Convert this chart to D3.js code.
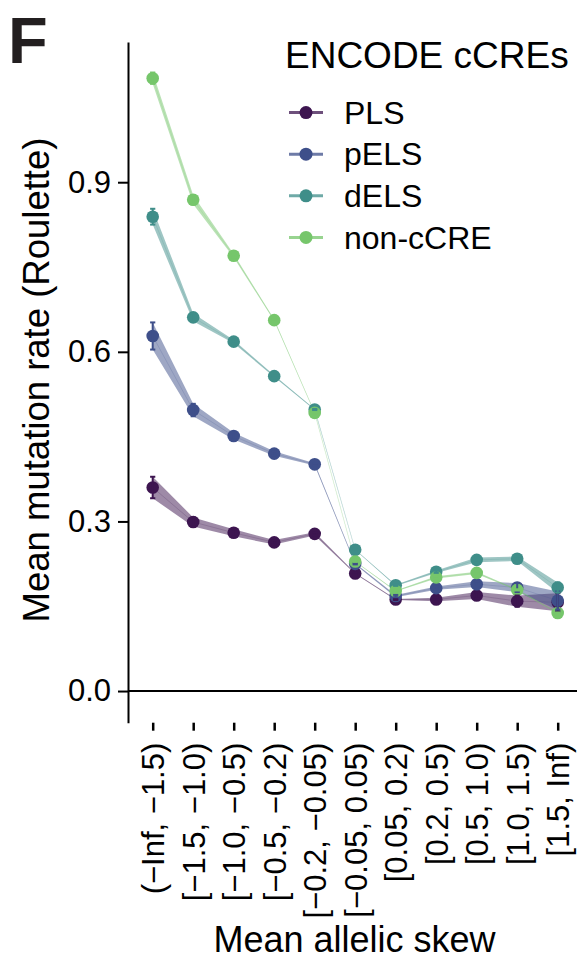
<!DOCTYPE html>
<html>
<head>
<meta charset="utf-8">
<script src="https://cdn.jsdelivr.net/npm/d3@7"></script>
<style>
  body { margin: 0; background: #fff; }
  svg { display: block; font-family: "Liberation Sans", Arial, Helvetica, sans-serif; }
</style>
</head>
<body>
<script>
// bins of mean allelic skew
const categories = [
  "(\u2212Inf, \u22121.5)", "[\u22121.5, \u22121.0)", "[\u22121.0, \u22120.5)",
  "[\u22120.5, \u22120.2)", "[\u22120.2, \u22120.05)", "[\u22120.05, 0.05)",
  "[0.05, 0.2)", "[0.2, 0.5)", "[0.5, 1.0)", "[1.0, 1.5)", "[1.5, Inf)"
];

const seriesNames  = ["PLS", "pELS", "dELS", "non-cCRE"];
const seriesColors = ["#3d1550", "#3e4f8a", "#3f8e89", "#76c66b"];

// mean mutation rate per bin
const plsMean    = [0.360, 0.299, 0.280, 0.263, 0.278, 0.208, 0.162, 0.162, 0.169, 0.159, 0.157];
const pelsMean   = [0.628, 0.497, 0.451, 0.420, 0.401, 0.225, 0.168, 0.182, 0.189, 0.183, 0.160];
const delsMean   = [0.839, 0.661, 0.618, 0.557, 0.498, 0.250, 0.187, 0.211, 0.232, 0.234, 0.183];
const noncreMean = [1.084, 0.869, 0.770, 0.656, 0.492, 0.229, 0.177, 0.201, 0.209, 0.179, 0.138];

// half-width of the confidence band / error bar
const plsCI    = [0.019, 0.008, 0.006, 0.004, 0.003, 0.001, 0.001, 0.003, 0.006, 0.010, 0.016];
const pelsCI   = [0.024, 0.011, 0.006, 0.004, 0.002, 0.001, 0.002, 0.003, 0.005, 0.008, 0.016];
const delsCI   = [0.014, 0.007, 0.003, 0.0015, 0.001, 0.0005, 0.001, 0.002, 0.004, 0.004, 0.009];
const noncreCI = [0.010, 0.008, 0.003, 0.0015, 0.0007, 0.0005, 0.001, 0.002, 0.002, 0.001, 0.001];

const yTicks = [0, 0.3, 0.6, 0.9];

const means = [plsMean, pelsMean, delsMean, noncreMean];
const cis   = [plsCI, pelsCI, delsCI, noncreCI];

const W = 577, H = 960;
const svg = d3.select("body").append("svg")
  .attr("width", W)
  .attr("height", H);

const x = d3.scalePoint().domain(categories).range([152.7, 557.7]);
const y = d3.scaleLinear().domain([-0.056, 1.148]).range([722.7, 42]);

const series = seriesNames.map((name, i) => ({
  name,
  color: seriesColors[i],
  values: categories.map((c, j) => ({ c, m: means[i][j], e: cis[i][j] }))
}));

// zero line
svg.append("line")
  .attr("x1", 128).attr("x2", W)
  .attr("y1", y(0)).attr("y2", y(0))
  .attr("stroke", "#000")
  .attr("stroke-width", 2);

// y axis
const yAxis = svg.append("g")
  .attr("transform", "translate(128,0)")
  .call(d3.axisLeft(y).tickValues(yTicks).tickFormat(d3.format(".1f"))
    .tickSize(10).tickSizeOuter(0).tickPadding(7));
yAxis.select(".domain").attr("stroke-width", 2);
yAxis.selectAll(".tick line").attr("stroke-width", 2);
yAxis.selectAll(".tick text")
  .attr("font-size", "31px")
  .attr("fill", "#000");

// x axis (ticks only, no spine)
const xAxis = svg.append("g")
  .attr("transform", "translate(0,722.7)")
  .call(d3.axisBottom(x).tickSize(8).tickSizeOuter(0));
xAxis.select(".domain").remove();
xAxis.selectAll(".tick line").attr("stroke-width", 2.5);
xAxis.selectAll(".tick text")
  .attr("font-size", "31px")
  .attr("fill", "#000")
  .attr("text-anchor", "end")
  .attr("transform", "rotate(-90)")
  .attr("x", -20)
  .attr("y", 0)
  .attr("dy", "0.35em");

// axis labels
svg.append("text")
  .attr("transform", "translate(49,380) rotate(-90)")
  .attr("text-anchor", "middle")
  .attr("font-size", "36.5px")
  .text("Mean mutation rate (Roulette)");

svg.append("text")
  .attr("x", 354.5)
  .attr("y", 952)
  .attr("text-anchor", "middle")
  .attr("font-size", "36px")
  .text("Mean allelic skew");

// bands and thin centre lines
const band = d3.area()
  .x(d => x(d.c))
  .y0(d => y(d.m - d.e))
  .y1(d => y(d.m + d.e));
const line = d3.line()
  .x(d => x(d.c))
  .y(d => y(d.m));

series.forEach(s => {
  svg.append("path")
    .datum(s.values)
    .attr("d", band)
    .attr("fill", s.color)
    .attr("fill-opacity", 0.5);
  svg.append("path")
    .datum(s.values)
    .attr("d", line)
    .attr("fill", "none")
    .attr("stroke", s.color)
    .attr("stroke-opacity", 0.3)
    .attr("stroke-width", 0.6);
});

// points
series.forEach(s => {
  svg.append("g").selectAll("circle")
    .data(s.values)
    .join("circle")
      .attr("cx", d => x(d.c))
      .attr("cy", d => y(d.m))
      .attr("r", 6.3)
      .attr("fill", s.color);
});

// error bars on top
series.forEach(s => {
  const g = svg.append("g")
    .attr("stroke", s.color)
    .attr("stroke-width", 2);
  s.values.forEach(d => {
    const cx = x(d.c);
    g.append("line")
      .attr("x1", cx).attr("x2", cx)
      .attr("y1", y(d.m - d.e)).attr("y2", y(d.m + d.e));
    [d.m - d.e, d.m + d.e].forEach(v => {
      g.append("line")
        .attr("x1", cx - 2.6).attr("x2", cx + 2.6)
        .attr("y1", y(v)).attr("y2", y(v));
    });
  });
});

// legend
const legend = svg.append("g");
legend.append("text")
  .attr("x", 285)
  .attr("y", 68)
  .attr("font-size", "37px")
  .text("ENCODE cCREs");

series.forEach((s, i) => {
  const row = legend.append("g")
    .attr("transform", `translate(0,${112.6 + i * 41.6})`);
  row.append("line")
    .attr("x1", 289).attr("x2", 323)
    .attr("stroke", s.color)
    .attr("stroke-opacity", 0.75)
    .attr("stroke-width", 3);
  row.append("circle")
    .attr("cx", 306)
    .attr("r", 6.5)
    .attr("fill", s.color);
  row.append("text")
    .attr("x", 344)
    .attr("dy", "0.35em")
    .attr("font-size", "32px")
    .text(s.name);
});

// panel letter
svg.append("text")
  .attr("x", 8)
  .attr("y", 62.7)
  .attr("font-size", "65px")
  .attr("font-weight", "bold")
  .attr("fill", "#231f20")
  .text("F");
</script>
</body>
</html>
